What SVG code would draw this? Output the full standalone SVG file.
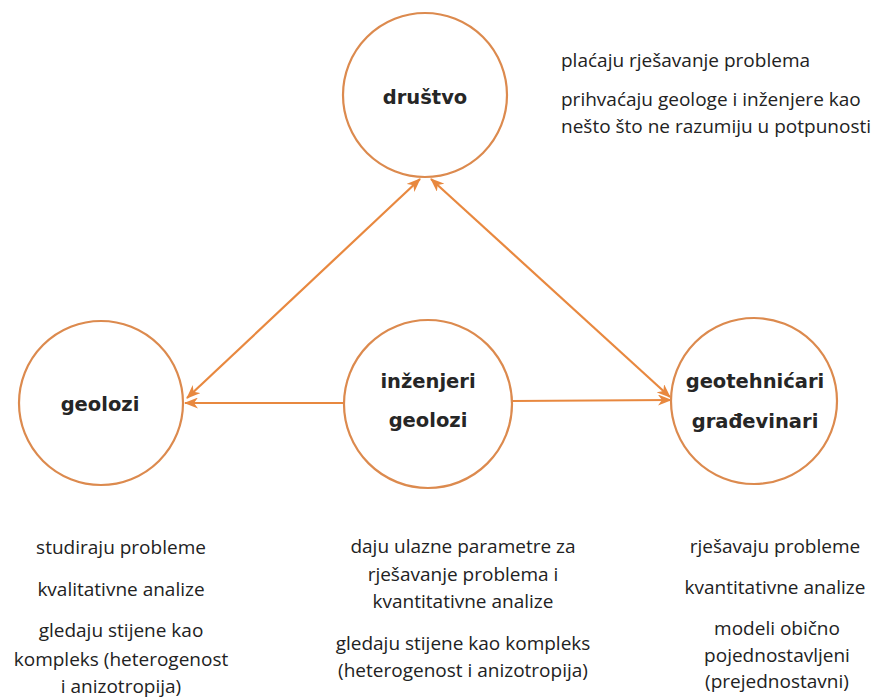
<svg xmlns="http://www.w3.org/2000/svg" width="891" height="700" viewBox="0 0 891 700">
<defs>
<style>
.node circle{fill:#ffffff;stroke:#DC8A4E;stroke-width:2.2}
.lbl{font-family:"DejaVu Sans",sans-serif;font-weight:bold;font-size:19.5px;fill:#262626;text-anchor:middle}
.txt{font-family:"Open Sans","Noto Sans",sans-serif;font-weight:500;font-size:19px;fill:#222222}
.c{text-anchor:middle}
.conn{stroke:#E8883F;stroke-width:2.2;fill:none}
</style>
<marker id="ah" viewBox="0 0 14 11" refX="13" refY="5.5" markerWidth="14" markerHeight="11" markerUnits="userSpaceOnUse" orient="auto-start-reverse">
<path d="M0,0 L14,5.5 L0,11 L4,5.5 z" fill="#E8883F"/>
</marker>
</defs>
<rect width="891" height="700" fill="#ffffff"/>
<g id="connectors">
<line class="conn" x1="343" y1="403" x2="185" y2="403" marker-end="url(#ah)"/>
<line class="conn" x1="512" y1="401" x2="671" y2="400" marker-end="url(#ah)"/>
<line class="conn" x1="187" y1="398" x2="420" y2="179" marker-start="url(#ah)" marker-end="url(#ah)"/>
<line class="conn" x1="431" y1="179" x2="670" y2="397" marker-start="url(#ah)" marker-end="url(#ah)"/>
</g>
<g id="drustvo" class="node">
<circle cx="425" cy="95" r="82"/>
<text class="lbl" x="425" y="104">društvo</text>
</g>
<g id="geolozi" class="node">
<circle cx="101" cy="403" r="82"/>
<text class="lbl" x="100" y="411">geolozi</text>
</g>
<g id="inzenjeri-geolozi" class="node">
<circle cx="428" cy="404" r="84"/>
<text class="lbl" x="428" y="388">inženjeri</text>
<text class="lbl" x="428" y="427">geolozi</text>
</g>
<g id="geotehnicari" class="node">
<circle cx="754" cy="401" r="83"/>
<text class="lbl" x="755" y="388">geotehnićari</text>
<text class="lbl" x="755" y="428">građevinari</text>
</g>
<g id="texts">
<text class="txt" x="561" y="67">plaćaju rješavanje problema</text>
<text class="txt" x="561" y="106">prihvaćaju geologe i inženjere kao</text>
<text class="txt" x="561" y="133">nešto što ne razumiju u potpunosti</text>

<text class="txt c" x="121" y="554">studiraju probleme</text>
<text class="txt c" x="121" y="596">kvalitativne analize</text>
<text class="txt c" x="121" y="637">gledaju stijene kao</text>
<text class="txt c" x="121" y="666">kompleks (heterogenost</text>
<text class="txt c" x="121" y="693">i anizotropija)</text>

<text class="txt c" x="463" y="553">daju ulazne parametre za</text>
<text class="txt c" x="463" y="581">rješavanje problema i</text>
<text class="txt c" x="463" y="608">kvantitativne analize</text>
<text class="txt c" x="463" y="650">gledaju stijene kao kompleks</text>
<text class="txt c" x="463" y="677">(heterogenost i anizotropija)</text>

<text class="txt c" x="775" y="553">rješavaju probleme</text>
<text class="txt c" x="775" y="594">kvantitativne analize</text>
<text class="txt c" x="777" y="635">modeli obično</text>
<text class="txt c" x="777" y="662">pojednostavljeni</text>
<text class="txt c" x="777" y="688">(prejednostavni)</text>
</g>
</svg>
